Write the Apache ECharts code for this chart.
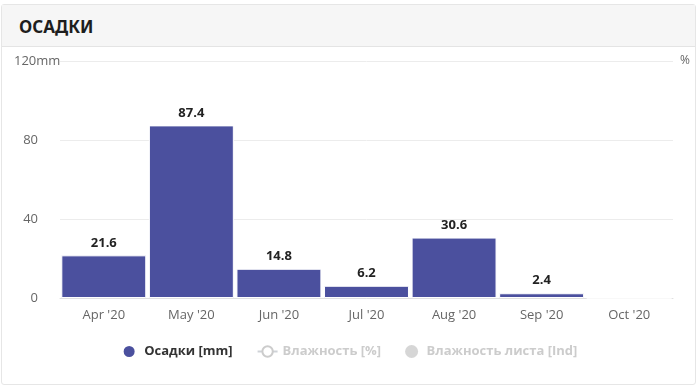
<!DOCTYPE html>
<html>
<head>
<meta charset="utf-8">
<script src="https://cdn.jsdelivr.net/npm/echarts@6/dist/echarts.min.js"></script>
<style>
  html, body { margin: 0; padding: 0; background: #fff; }
  body { width: 699px; height: 389px; position: relative; overflow: hidden; font-family: "Open Sans", "Noto Sans", sans-serif; }
  .card { position: absolute; left: 1px; top: 4px; width: 695px; height: 381px; border: 1px solid #e6e6e6; border-radius: 3px; box-sizing: border-box; }
  .head { height: 42px; background: #f6f6f6; border-bottom: 1px solid #e4e4e4; box-sizing: border-box; }
  .head span { position: absolute; left: 17px; top: 10px; font-size: 17px; font-weight: bold; color: #1e1e1e; font-family: "Noto Sans", sans-serif; }
  #chart { position: absolute; left: 0; top: 0; width: 699px; height: 389px; }
</style>
</head>
<body>
<div class="card"><div class="head"><span>ОСАДКИ</span></div></div>
<div id="chart"></div>
<script>
// months shown on the x axis
var months = ['Apr \'20', 'May \'20', 'Jun \'20', 'Jul \'20', 'Aug \'20', 'Sep \'20', 'Oct \'20']
// precipitation, mm
var rain = [21.6, 87.4, 14.8, 6.2, 30.6, 2.4, 0]
var humidity = []
var leafWet = []

var chart = echarts.init(document.getElementById('chart'))

chart.setOption({
  animation: false,
  textStyle: { fontFamily: '"Open Sans", "Noto Sans", sans-serif' },
  grid: { left: 60, right: 26, top: 61, bottom: 91 },
  legend: {
    bottom: 25,
    left: 'center',
    itemGap: 24,
    itemWidth: 20,
    itemHeight: 13,
    textStyle: { fontSize: 13, fontWeight: 'bold', color: '#333' },
    inactiveColor: '#cccccc',
    selected: { 'Влажность [%]': false, 'Влажность листа [Ind]': false },
    data: [
      { name: 'Осадки [mm]', icon: 'circle' },
      { name: 'Влажность [%]' },
      { name: 'Влажность листа [Ind]', icon: 'circle' }
    ]
  },
  xAxis: {
    type: 'category',
    data: months,
    axisLine: { lineStyle: { color: '#e0e0e0' } },
    axisTick: { alignWithLabel: true, length: 8, lineStyle: { color: '#e0e0e0' } },
    axisLabel: { color: '#666', fontSize: 13, margin: 11 }
  },
  yAxis: [{
    type: 'value',
    min: 0,
    max: 120,
    interval: 40,
    name: '120mm',
    nameLocation: 'end',
    nameGap: 0,
    nameTextStyle: { color: '#666', fontSize: 13, align: 'left', verticalAlign: 'middle', padding: [0, 0, 0, -46] },
    axisLabel: { color: '#666', fontSize: 13, margin: 22, showMaxLabel: false },
    splitLine: { lineStyle: { color: '#ececec' } }
  }, {
    type: 'value',
    min: 0,
    max: 100,
    name: '%',
    nameLocation: 'end',
    nameGap: 0,
    nameTextStyle: { color: '#666', fontSize: 12, align: 'left', verticalAlign: 'middle', padding: [0, 0, 0, 7] },
    axisLabel: { show: false },
    splitLine: { show: false },
    axisLine: { show: false }
  }],
  series: [{
    name: 'Осадки [mm]',
    type: 'bar',
    data: rain,
    barCategoryGap: '3%',
    itemStyle: { color: '#4b509e', borderColor: '#fff', borderWidth: 1 },
    label: {
      show: true,
      position: 'top',
      distance: 6,
      fontSize: 13,
      fontWeight: 'bold',
      color: '#222',
      formatter: function (p) { return p.value ? p.value.toFixed(1) : '' }
    }
  }, {
    name: 'Влажность [%]',
    type: 'line',
    yAxisIndex: 1,
    data: humidity,
    itemStyle: { color: '#8fb8d8' }
  }, {
    name: 'Влажность листа [Ind]',
    type: 'scatter',
    yAxisIndex: 1,
    data: leafWet,
    itemStyle: { color: '#9ccc65' }
  }]
})
</script>
</body>
</html>
